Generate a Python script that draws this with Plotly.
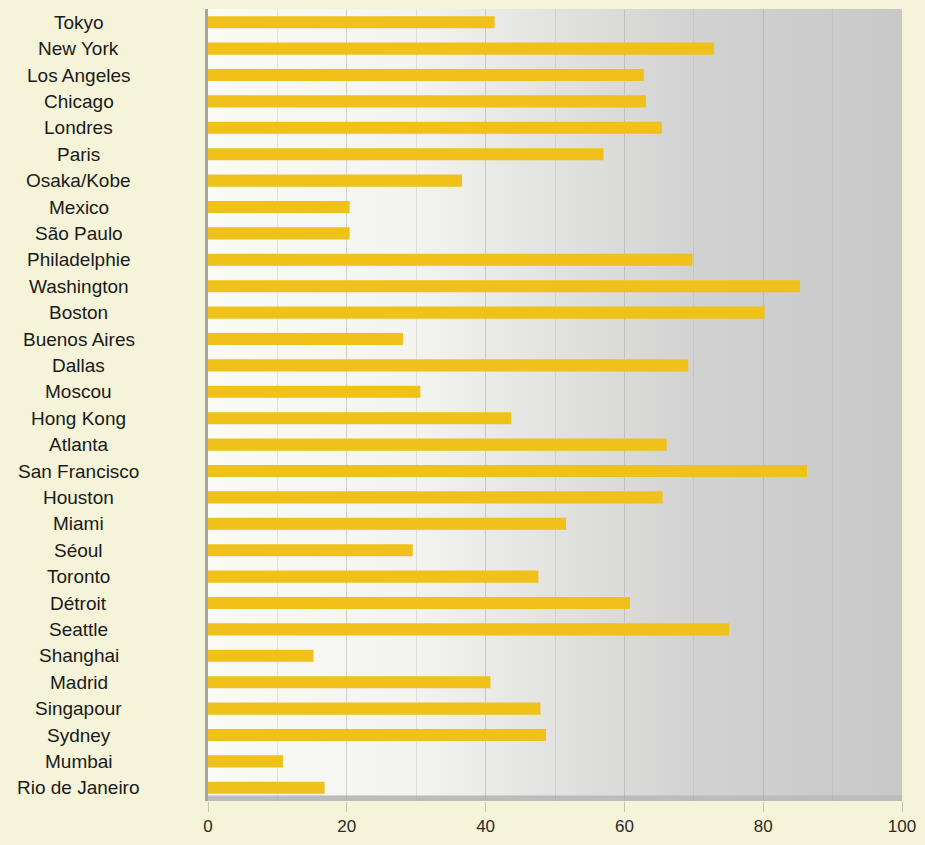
import base64
import plotly.graph_objects as go

cities = ['Tokyo', 'New York', 'Los Angeles', 'Chicago', 'Londres', 'Paris',
          'Osaka/Kobe', 'Mexico', 'São Paulo', 'Philadelphie', 'Washington',
          'Boston', 'Buenos Aires', 'Dallas', 'Moscou', 'Hong Kong', 'Atlanta',
          'San Francisco', 'Houston', 'Miami', 'Séoul', 'Toronto', 'Détroit',
          'Seattle', 'Shanghai', 'Madrid', 'Singapour', 'Sydney', 'Mumbai',
          'Rio de Janeiro']

values = [41.3, 72.9, 62.8, 63.1, 65.4, 57.0, 36.6, 20.4, 20.4, 69.8, 85.3,
          80.2, 28.1, 69.2, 30.6, 43.7, 66.1, 86.3, 65.5, 51.6, 29.5, 47.6,
          60.8, 75.1, 15.2, 40.7, 47.9, 48.7, 10.8, 16.8]

x_ticks = [0, 20, 40, 60, 80, 100]

# gradient background of the plot area (white on the left -> gray on the right)
svg = ('<svg xmlns="http://www.w3.org/2000/svg" width="100" height="100" preserveAspectRatio="none">'
       '<defs><linearGradient id="g" x1="0" y1="0" x2="1" y2="0">'
       '<stop offset="0" stop-color="#fbfbf5"/>'
       '<stop offset="0.3" stop-color="#f3f3f0"/>'
       '<stop offset="0.5" stop-color="#e2e2e0"/>'
       '<stop offset="0.7" stop-color="#d2d2d2"/>'
       '<stop offset="1" stop-color="#c8c8c8"/>'
       '</linearGradient></defs>'
       '<rect width="100" height="100" fill="url(#g)"/>'
       '<rect y="99.3" width="100" height="0.7" fill="#bcbcbc"/>'
       '</svg>')
bg_src = 'data:image/svg+xml;base64,' + base64.b64encode(svg.encode()).decode()

font_name = 'Liberation Sans, Arial, sans-serif'

fig = go.Figure()

fig.add_trace(go.Bar(
    y=cities,
    x=values,
    orientation='h',
    width=0.46,
    marker=dict(color='#efc11a', line=dict(width=0)),
    hovertemplate='%{y}: %{x}<extra></extra>'
))

# city labels, centred in the left column
for c in cities:
    fig.add_annotation(
        x=-0.186, xref='paper', y=c, yref='y',
        text=c, showarrow=False, xanchor='center', yanchor='middle',
        font=dict(family=font_name, size=19, color='#1a1a1a')
    )

fig.update_layout(
    width=925,
    height=845,
    paper_bgcolor='#f5f3d8',
    plot_bgcolor='rgba(0,0,0,0)',
    showlegend=False,
    margin=dict(l=208, r=15, t=9, b=41),
    images=[dict(source=bg_src, xref='paper', yref='paper', x=0, y=1,
                 sizex=1, sizey=1, sizing='stretch', layer='below',
                 xanchor='left', yanchor='top')],
    xaxis=dict(
        range=[0, 100],
        tickvals=x_ticks,
        ticktext=[str(t) for t in x_ticks],
        ticks='outside',
        ticklen=10,
        tickcolor='#c4c2b0',
        tickfont=dict(family=font_name, size=17, color='#2a2a2a'),
        showgrid=True,
        gridcolor='rgba(150,150,150,0.22)',
        gridwidth=1,
        minor=dict(dtick=10, tick0=0, showgrid=True,
                   gridcolor='rgba(150,150,150,0.22)', gridwidth=1),
        zeroline=False,
        showline=False,
        fixedrange=True,
    ),
    yaxis=dict(
        categoryorder='array',
        categoryarray=cities,
        autorange='reversed',
        showticklabels=False,
        showgrid=False,
        zeroline=False,
        showline=True,
        linecolor='#a3a3a0',
        linewidth=3,
        fixedrange=True,
    ),
)

fig.write_html("out.html", config={'displayModeBar': False},
               post_script="document.body.style.margin='0';")
